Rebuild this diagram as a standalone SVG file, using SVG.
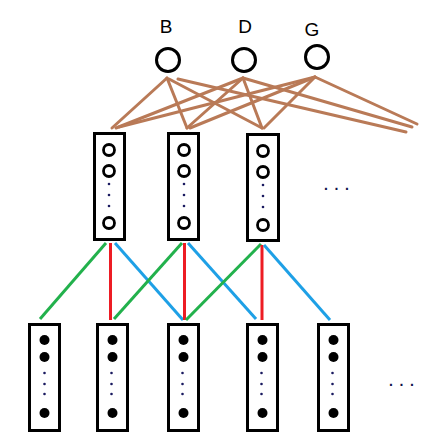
<svg xmlns="http://www.w3.org/2000/svg" width="448" height="444" viewBox="0 0 448 444">
<style>
.lbl{font-family:"Liberation Sans",Arial,sans-serif;font-size:19px;fill:#000;text-anchor:middle}
.ell{font-family:"Liberation Sans",Arial,sans-serif;font-size:14px;font-weight:bold;fill:#10104a;letter-spacing:6.6px}
.top{fill:#fff;stroke:#000;stroke-width:3}
.box{fill:#fff;stroke:#000;stroke-width:3}
.oc{fill:none;stroke:#000;stroke-width:2.8}
.fc{fill:#000}
.dot{fill:#1a1a60}
.br{stroke:#b97a57;stroke-width:3;fill:none;stroke-linecap:round}
.g{stroke:#22b14c;stroke-width:3}
.r{stroke:#ed1c24;stroke-width:3}
.b{stroke:#1ea0e6;stroke-width:3}
</style>
<rect width="448" height="444" fill="#fff"/>
<g id="connectors">
<g class="br">
<line x1="167" y1="78" x2="112" y2="128"/>
<line x1="167" y1="78" x2="187" y2="128"/>
<line x1="169" y1="79" x2="262" y2="128"/>
<line x1="178" y1="79" x2="406" y2="132"/>
<line x1="243" y1="78" x2="116" y2="128"/>
<line x1="243" y1="78" x2="187" y2="128"/>
<line x1="243" y1="78" x2="262" y2="128"/>
<line x1="243" y1="78" x2="412" y2="127"/>
<line x1="315" y1="77" x2="119" y2="127"/>
<line x1="315" y1="77" x2="190" y2="128"/>
<line x1="315" y1="77" x2="264" y2="128"/>
<line x1="315" y1="77" x2="417" y2="124"/>
</g>
<line class="g" x1="106" y1="243" x2="40" y2="319"/>
<line class="r" x1="110.5" y1="243" x2="110.5" y2="320"/>
<line class="b" x1="115" y1="243" x2="183" y2="320"/>
<line class="g" x1="182" y1="243" x2="114" y2="319"/>
<line class="r" x1="184.5" y1="243" x2="184.5" y2="320"/>
<line class="b" x1="188" y1="243" x2="256" y2="319"/>
<line class="g" x1="261" y1="244" x2="186" y2="320"/>
<line class="r" x1="262" y1="245" x2="262" y2="320"/>
<line class="b" x1="264" y1="245" x2="330" y2="320"/>
</g>
<g id="nodeB"><text class="lbl" x="166" y="33">B</text><circle class="top" cx="168" cy="60" r="11.5"/></g>
<g id="nodeD"><text class="lbl" x="245" y="33">D</text><circle class="top" cx="244" cy="60" r="11.5"/></g>
<g id="nodeG"><text class="lbl" x="312" y="36">G</text><circle class="top" cx="317" cy="57" r="11.5"/></g>
<g id="mid1"><rect class="box" x="94.5" y="133.5" width="30" height="106"/>
<circle class="oc" cx="109" cy="150" r="5.5"/><circle class="oc" cx="109" cy="171" r="5.5"/>
<circle class="dot" cx="109" cy="184" r="1.3"/><circle class="dot" cx="109" cy="195" r="1.3"/><circle class="dot" cx="109" cy="206" r="1.3"/>
<circle class="oc" cx="109" cy="223" r="5.5"/></g>
<g id="mid2"><rect class="box" x="168.5" y="133.5" width="30" height="106"/>
<circle class="oc" cx="184" cy="150" r="5.5"/><circle class="oc" cx="184" cy="171" r="5.5"/>
<circle class="dot" cx="184" cy="184" r="1.3"/><circle class="dot" cx="184" cy="195" r="1.3"/><circle class="dot" cx="184" cy="206" r="1.3"/>
<circle class="oc" cx="184" cy="223" r="5.5"/></g>
<g id="mid3"><rect class="box" x="247.5" y="134.5" width="31" height="106"/>
<circle class="oc" cx="263" cy="151" r="5.5"/><circle class="oc" cx="263" cy="172" r="5.5"/>
<circle class="dot" cx="263" cy="185" r="1.3"/><circle class="dot" cx="263" cy="196" r="1.3"/><circle class="dot" cx="263" cy="207" r="1.3"/>
<circle class="oc" cx="263" cy="225" r="5.5"/></g>
<text class="ell" x="324" y="190">...</text>
<g id="bot1"><rect class="box" x="29.5" y="324.5" width="30" height="106"/>
<circle class="fc" cx="44.5" cy="340" r="5"/><circle class="fc" cx="44.5" cy="357" r="5"/>
<circle class="dot" cx="44.5" cy="373" r="1.3"/><circle class="dot" cx="44.5" cy="384" r="1.3"/><circle class="dot" cx="44.5" cy="394" r="1.3"/>
<circle class="fc" cx="44.5" cy="413" r="5"/></g>
<g id="bot2"><rect class="box" x="97.5" y="324.5" width="30" height="106"/>
<circle class="fc" cx="112.5" cy="340" r="5"/><circle class="fc" cx="112.5" cy="357" r="5"/>
<circle class="dot" cx="111.5" cy="373" r="1.3"/><circle class="dot" cx="111.5" cy="384" r="1.3"/><circle class="dot" cx="111.5" cy="394" r="1.3"/>
<circle class="fc" cx="112.5" cy="413" r="5"/></g>
<g id="bot3"><rect class="box" x="168.5" y="324.5" width="30" height="106"/>
<circle class="fc" cx="183.5" cy="340" r="5"/><circle class="fc" cx="183.5" cy="357" r="5"/>
<circle class="dot" cx="182.5" cy="373" r="1.3"/><circle class="dot" cx="182.5" cy="384" r="1.3"/><circle class="dot" cx="182.5" cy="394" r="1.3"/>
<circle class="fc" cx="183.5" cy="413" r="5"/></g>
<g id="bot4"><rect class="box" x="247.5" y="324.5" width="30" height="106"/>
<circle class="fc" cx="262.5" cy="340" r="5"/><circle class="fc" cx="262.5" cy="357" r="5"/>
<circle class="dot" cx="261.5" cy="373" r="1.3"/><circle class="dot" cx="261.5" cy="384" r="1.3"/><circle class="dot" cx="261.5" cy="394" r="1.3"/>
<circle class="fc" cx="262.5" cy="413" r="5"/></g>
<g id="bot5"><rect class="box" x="318.5" y="324.5" width="30" height="106"/>
<circle class="fc" cx="333.5" cy="340" r="5"/><circle class="fc" cx="333.5" cy="357" r="5"/>
<circle class="dot" cx="332.5" cy="373" r="1.3"/><circle class="dot" cx="332.5" cy="384" r="1.3"/><circle class="dot" cx="332.5" cy="394" r="1.3"/>
<circle class="fc" cx="333.5" cy="413" r="5"/></g>
<text class="ell" x="389" y="386">...</text>
</svg>
